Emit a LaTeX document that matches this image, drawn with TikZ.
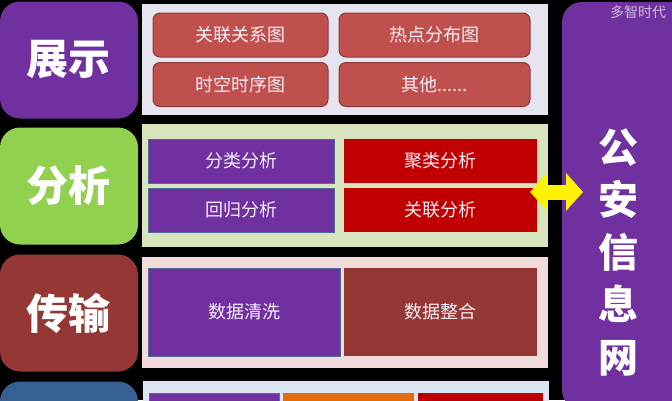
\documentclass[tikz,border=0pt]{standalone}
\usepackage{fontspec}
\newfontfamily\cjk{Noto Sans CJK SC}
\usetikzlibrary{positioning, arrows.meta}

\definecolor{lyrpurple}{RGB}{112,48,160}
\definecolor{lyrgreen}{RGB}{146,208,80}
\definecolor{lyrbrown}{RGB}{149,55,53}
\definecolor{lyrblue}{RGB}{54,96,146}
\definecolor{pnlgrey}{RGB}{230,228,238}
\definecolor{pnlgreen}{RGB}{215,228,189}
\definecolor{pnlpink}{RGB}{242,220,219}
\definecolor{pnlblue}{RGB}{220,230,242}
\definecolor{cellrose}{RGB}{192,80,77}
\definecolor{cellroseline}{RGB}{140,58,56}
\definecolor{cellred}{RGB}{192,0,0}
\definecolor{cellorange}{RGB}{228,108,10}
\definecolor{celledge}{RGB}{79,110,150}
\definecolor{celltext}{RGB}{245,240,250}

\begin{document}
\begin{tikzpicture}[x=1pt, y=-1pt,
  layer/.style={rounded corners=20pt, minimum width=138pt, minimum height=117pt,
    inner sep=0pt, text=white, font=\cjk\bfseries\fontsize{42}{42}\selectfont},
  panel/.style={minimum width=406pt, inner sep=0pt},
  cell/.style={inner sep=0pt, minimum height=44pt, text=celltext,
    font=\cjk\fontsize{18}{18}\selectfont},
  rosecell/.style={cell, fill=cellrose, draw=cellroseline, line width=1pt, rounded corners=7pt},
  purplecell/.style={cell, fill=lyrpurple, draw=celledge, line width=1pt},
  redcell/.style={cell, fill=cellred}]

  \fill[black] (0,0) rectangle (672,400);
  \useasboundingbox (0,0) rectangle (672,400);

  % layers on the left
  \draw (69,60) node[layer, fill=lyrpurple] (show) {展示};
  \draw (69,186) node[layer, fill=lyrgreen] (anal) {分析};
  \draw (69,313) node[layer, fill=lyrbrown] (trans) {传输};
  \draw (69,440) node[layer, fill=lyrblue] (base) {};

  % panels
  \draw (345,59.5) node[panel, fill=pnlgrey, minimum height=111pt] (pshow) {};
  \draw (345,185.5) node[panel, fill=pnlgreen, minimum height=123pt] (panal) {};
  \draw (345,312.5) node[panel, fill=pnlpink, minimum height=111pt] (ptrans) {};
  \draw (346,440) node[panel, fill=pnlblue, minimum height=118pt] (pbase) {};

  \draw (240.5,35) node[rosecell, minimum width=175pt] (rel) {关联关系图};
  \draw (240.5,84.5) node[rosecell, minimum width=175pt] (tim) {时空时序图};
  \draw (434.5,35) node[rosecell, minimum width=191pt] (hot) {热点分布图};
  \draw (434.5,84.5) node[rosecell, minimum width=191pt] (oth) {其他......};

  \draw (241,161) node[purplecell, minimum width=186pt] (cls) {分类分析};
  \draw (241,210) node[purplecell, minimum width=186pt] (reg) {回归分析};
  \draw (440.5,161) node[redcell, minimum width=193pt] (clu) {聚类分析};
  \draw (440.5,210) node[redcell, minimum width=193pt] (ass) {关联分析};

  \draw (244,312) node[purplecell, minimum width=192pt, minimum height=88pt] (clean) {数据清洗};
  \draw (440.5,312) node[cell, fill=lyrbrown, minimum width=193pt, minimum height=88pt] (merge) {数据整合};

  \draw (214,415) node[purplecell, minimum width=130pt] (b1) {};
  \draw (348.5,415) node[cell, fill=cellorange, minimum width=131pt] (b2) {};
  \draw (480.5,415) node[redcell, minimum width=125pt] (b3) {};

  % network on the right
  \draw (626,206) node[fill=lyrpurple, rounded corners=20pt, inner sep=0pt,
    minimum width=128pt, minimum height=408pt] (net) {};
  \draw (618,252) node[text=white, align=center, inner sep=0pt,
    font=\cjk\bfseries\fontsize{40}{52.5}\selectfont] (netlbl) {公\\安\\信\\息\\网};
  \draw (638,12) node[text=pnlgrey!80!lyrpurple, inner sep=0pt,
    font=\cjk\fontsize{14}{14}\selectfont] (brand) {多智时代};

  \coordinate (arrL) at (530,192);
  \coordinate (arrR) at (583,192);
  \draw[yellow, line width=15pt, {Triangle[length=17pt, width=37pt]}-{Triangle[length=17pt, width=37pt]}] (arrL) -- (arrR);
\end{tikzpicture}
\end{document}
